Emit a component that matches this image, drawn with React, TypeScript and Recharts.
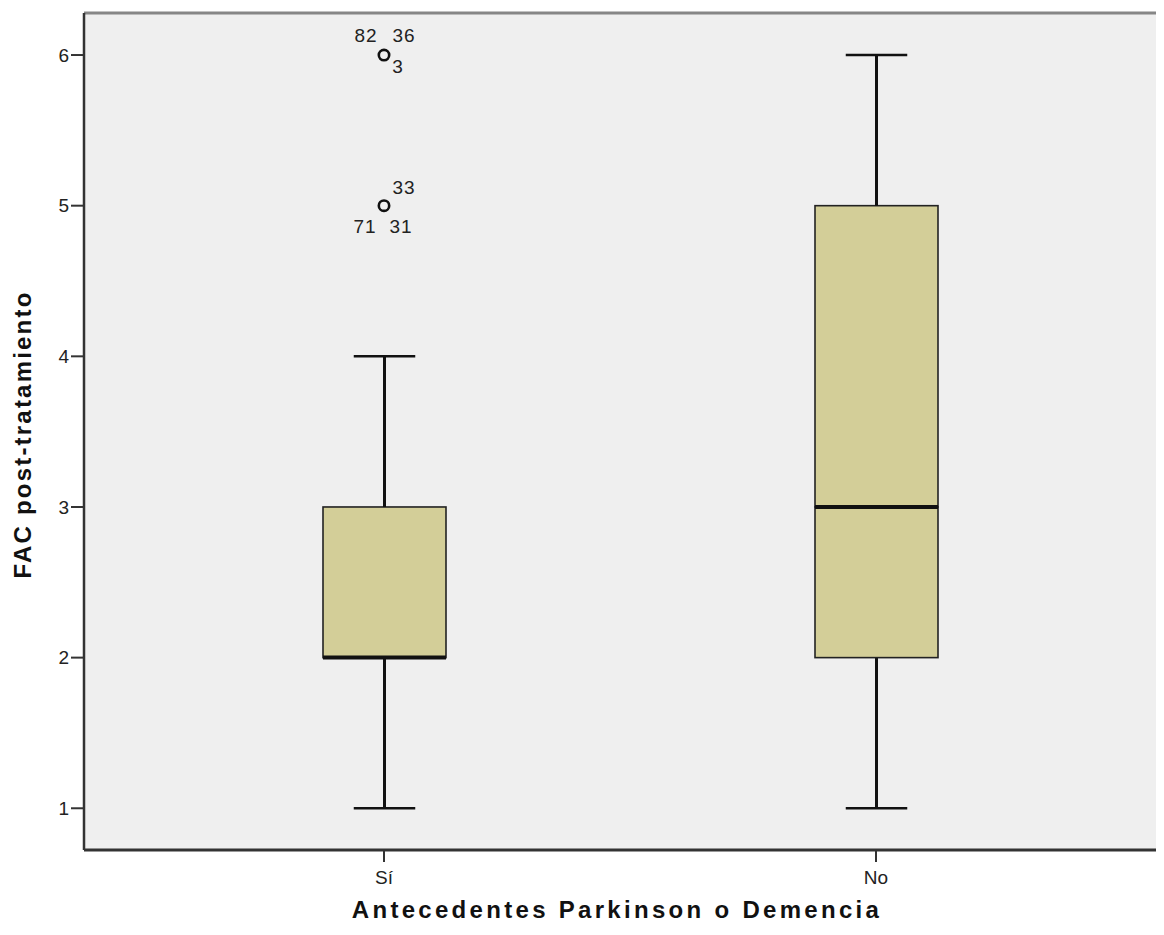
import { Bar, CartesianGrid, ComposedChart, ReferenceLine, Scatter, XAxis, YAxis } from "recharts";

// boxplot stats per group
const categories = ["Sí", "No"];
const minVals = [1, 1];
const q1Vals = [2, 2];
const medianVals = [2, 3];
const q3Vals = [3, 5];
const maxVals = [4, 6];
// outliers (value) and the case numbers printed next to them
const outlier1 = [6, null];
const outlier2 = [5, null];
const outlier1Cases = [["82", "36", "3"], []];
const outlier2Cases = [["33", "71", "31"], []];

const yTicks = [1, 2, 3, 4, 5, 6];
const Y_MIN = 0.723;
const Y_MAX = 6.279;

const BOX_FILL = "#D3CE98";
const INK = "#111";
const FONT = "Arial, 'Liberation Sans', sans-serif";

const data = categories.map((cat, i) => ({
  cat,
  base: minVals[i],
  lowWhisker: q1Vals[i] - minVals[i],
  lowBox: medianVals[i] - q1Vals[i],
  highBox: q3Vals[i] - medianVals[i],
  highWhisker: maxVals[i] - q3Vals[i],
  out1: outlier1[i],
  out2: outlier2[i],
  out1Cases: outlier1Cases[i],
  out2Cases: outlier2Cases[i],
}));

const Empty = () => <g />;

const LowWhisker = (p: any) => {
  const cx = p.x + p.width / 2;
  const cap = p.width / 4;
  return (
    <g>
      <line x1={cx} x2={cx} y1={p.y} y2={p.y + p.height} stroke={INK} strokeWidth={3} />
      <line x1={cx - cap} x2={cx + cap} y1={p.y + p.height} y2={p.y + p.height} stroke={INK} strokeWidth={2.5} />
    </g>
  );
};

const HighWhisker = (p: any) => {
  const cx = p.x + p.width / 2;
  const cap = p.width / 4;
  return (
    <g>
      <line x1={cx} x2={cx} y1={p.y} y2={p.y + p.height} stroke={INK} strokeWidth={3} />
      <line x1={cx - cap} x2={cx + cap} y1={p.y} y2={p.y} stroke={INK} strokeWidth={2.5} />
    </g>
  );
};

const LowBox = (p: any) => {
  if (!p.height || p.height <= 0) return <g />;
  return <rect x={p.x} y={p.y} width={p.width} height={p.height} fill={BOX_FILL} stroke="#222" strokeWidth={1.6} />;
};

const HighBox = (p: any) => (
  <g>
    <rect x={p.x} y={p.y} width={p.width} height={p.height} fill={BOX_FILL} stroke="#222" strokeWidth={1.6} />
    <line x1={p.x} x2={p.x + p.width} y1={p.y + p.height} y2={p.y + p.height} stroke={INK} strokeWidth={4} />
  </g>
);

// label slots around the circle: [dx, dy]
const SLOTS1 = [[-18, -13], [20, -13], [14, 18]];
const SLOTS2 = [[20, -12], [-19, 27], [17, 27]];

const makeOutlier = (key: string, casesKey: string, slots: number[][]) => (p: any) => {
  const v = p.payload?.[key];
  if (v == null || p.cx == null || p.cy == null) return <g />;
  const ids: string[] = p.payload[casesKey] || [];
  return (
    <g>
      <circle cx={p.cx} cy={p.cy} r={5.2} fill="none" stroke={INK} strokeWidth={2.6} />
      {ids.map((id, i) => (
        <text
          key={id}
          x={p.cx + slots[i][0]}
          y={p.cy + slots[i][1]}
          textAnchor="middle"
          fontSize={19}
          fontFamily={FONT}
          letterSpacing={1}
          fill="#222"
        >
          {id}
        </text>
      ))}
    </g>
  );
};

const YTitle = (props: any) => {
  const vb = props.viewBox;
  const cy = vb.y + vb.height / 2 + 3;
  return (
    <text
      x={31}
      y={cy}
      transform={`rotate(-90, 31, ${cy})`}
      textAnchor="middle"
      fontSize={24}
      fontWeight="bold"
      fontFamily={FONT}
      letterSpacing={2.2}
      fill="#111"
    >
      FAC post-tratamiento
    </text>
  );
};

const XTitle = () => (
  <text
    x={617}
    y={918}
    textAnchor="middle"
    fontSize={24}
    fontWeight="bold"
    fontFamily={FONT}
    letterSpacing={3.3}
    fill="#111"
  >
    Antecedentes Parkinson o Demencia
  </text>
);

export default function App() {
  return (
    <div style={{ margin: -8, width: 1164, height: 935, overflow: "hidden", background: "#fff" }}>
      <ComposedChart width={1200} height={935} data={data} margin={{ top: 13, right: 24, bottom: 0, left: 0 }}>
        <CartesianGrid fill="#EFEFEF" horizontal={false} vertical={false} />
        <XAxis
          dataKey="cat"
          height={85}
          padding={{ left: 54, right: 54 }}
          axisLine={{ stroke: "#333", strokeWidth: 3 }}
          tickLine={{ stroke: "#333", strokeWidth: 2 }}
          tickSize={12}
          tickMargin={9}
          tick={{ fontSize: 19, fontFamily: FONT, fill: "#222" }}
          label={<XTitle />}
        />
        <YAxis
          type="number"
          domain={[Y_MIN, Y_MAX]}
          ticks={yTicks}
          allowDataOverflow
          width={84}
          axisLine={{ stroke: "#333", strokeWidth: 2.5 }}
          tickLine={{ stroke: "#333", strokeWidth: 2 }}
          tickSize={13}
          tickMargin={2}
          tick={{ fontSize: 19, fontFamily: FONT, fill: "#222" }}
          label={<YTitle />}
        />
        <ReferenceLine y={Y_MAX} stroke="#868686" strokeWidth={3} />
        <Bar dataKey="base" stackId="box" barSize={123} shape={Empty} isAnimationActive={false} />
        <Bar dataKey="lowWhisker" stackId="box" barSize={123} shape={LowWhisker} isAnimationActive={false} />
        <Bar dataKey="lowBox" stackId="box" barSize={123} shape={LowBox} isAnimationActive={false} />
        <Bar dataKey="highBox" stackId="box" barSize={123} shape={HighBox} isAnimationActive={false} />
        <Bar dataKey="highWhisker" stackId="box" barSize={123} shape={HighWhisker} isAnimationActive={false} />
        <Scatter dataKey="out1" shape={makeOutlier("out1", "out1Cases", SLOTS1)} isAnimationActive={false} />
        <Scatter dataKey="out2" shape={makeOutlier("out2", "out2Cases", SLOTS2)} isAnimationActive={false} />
      </ComposedChart>
    </div>
  );
}
